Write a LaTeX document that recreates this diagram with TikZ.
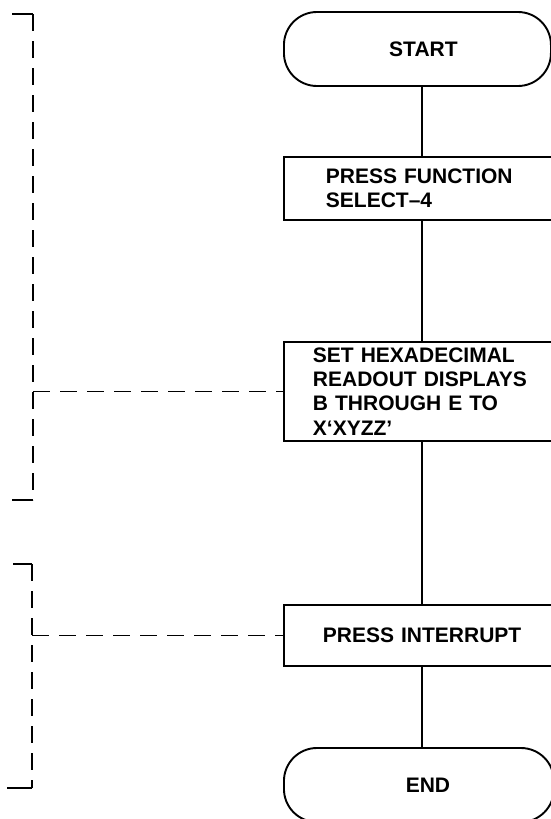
\documentclass[tikz,border=0pt]{standalone}
\usepackage{fontspec}
\setmainfont{Liberation Sans}
\newcommand\lbl{\bfseries\fontsize{21}{24.3}\selectfont}
\begin{document}
\begin{tikzpicture}[x=1pt,y=-1pt,
  term/.style={draw, line width=1.9pt, rounded corners=33pt, minimum height=74pt, inner sep=0pt, font=\lbl, anchor=west},
  procbox/.style={draw, line width=1.9pt, anchor=west, inner ysep=0pt, align=left, font=\lbl},
  conn/.style={line width=1.3pt},
  brk/.style={line width=1.6pt},
  dsh/.style={line width=1.6pt, dash pattern=on 17pt off 10pt}]
\useasboundingbox (0,0) rectangle (550,819);
\coordinate (cx) at (422,0);
% flow
\node[term, minimum width=267pt] (start) at (283,49) {\hspace*{12pt}START};
\node[procbox, minimum height=63pt, inner xsep=42pt, text width=191pt] (f4) at (283,188.5) {\mbox{PRESS FUNCTION}\\SELECT--4};
\node[procbox, minimum height=99pt, inner xsep=29pt, text width=217pt] (hex) at (283,391.5) {\mbox{SET HEXADECIMAL}\\\mbox{READOUT DISPLAYS}\\\mbox{B THROUGH E TO}\\X‘XYZZ’};
\node[procbox, minimum height=61pt, inner xsep=39pt, text width=197pt] (intr) at (283,635.5) {\mbox{PRESS INTERRUPT}};
\node[term, minimum width=270pt] (end) at (283,785) {\hspace*{18pt}END};
\draw[conn] (start.south -| cx) -- (f4.north -| cx);
\draw[conn] (f4.south -| cx) -- (hex.north -| cx);
\draw[conn] (hex.south -| cx) -- (intr.north -| cx);
\draw[conn] (intr.south -| cx) -- (end.north -| cx);
% bracket 1
\coordinate (b1t) at (12,14);
\coordinate (b1c) at (33,14);
\coordinate (b1b) at (33,500);
\coordinate (b1f) at (12,500);
\draw[brk] (b1t) -- (b1c);
\draw[dsh] (b1c) -- (b1b);
\draw[brk] (b1b) -- (b1f);
\draw[dsh] (hex.west -| b1c) -- (hex.west);
% bracket 2
\coordinate (b2t) at (13,564);
\coordinate (b2c) at (32,564);
\coordinate (b2b) at (32,788);
\coordinate (b2f) at (7,788);
\draw[brk] (b2t) -- (b2c);
\draw[dsh] (b2c) -- (b2b);
\draw[brk] (b2b) -- (b2f);
\draw[dsh] (intr.west -| b2c) -- (intr.west);
\end{tikzpicture}
\end{document}
